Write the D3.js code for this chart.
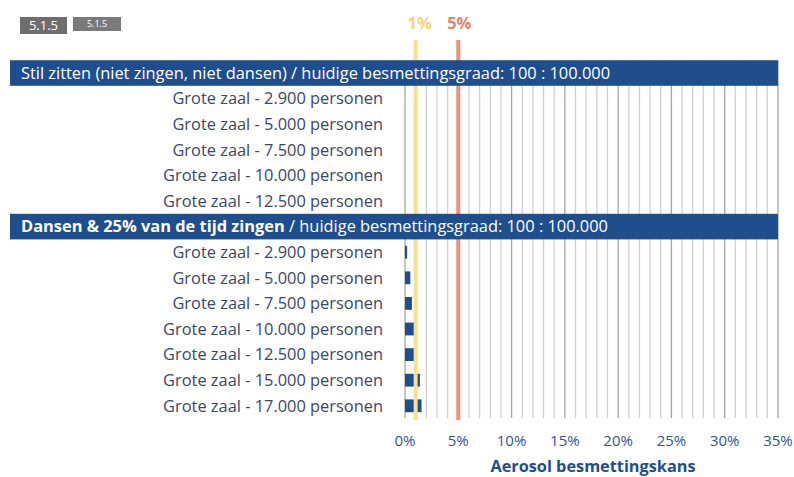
<!DOCTYPE html>
<html>
<head>
<meta charset="utf-8">
<script src="https://cdn.jsdelivr.net/npm/d3@7"></script>
<style>
  html, body { margin: 0; padding: 0; background: #fff; }
  svg { display: block; }
  text { font-family: "Open Sans", "Noto Sans", sans-serif; }
</style>
</head>
<body>
<svg id="chart" width="794" height="477"></svg>
<script>
// ---- data ----
const header1Bold = "";
const header1Text = "Stil zitten (niet zingen, niet dansen) / huidige besmettingsgraad: 100 : 100.000";
const header2Bold = "Dansen & 25% van de tijd zingen";
const header2Text = " / huidige besmettingsgraad: 100 : 100.000";
const stilLabels = ["Grote zaal - 2.900 personen", "Grote zaal - 5.000 personen", "Grote zaal - 7.500 personen",
                    "Grote zaal - 10.000 personen", "Grote zaal - 12.500 personen"];
const stilValues = [0, 0, 0, 0, 0];
const dansLabels = ["Grote zaal - 2.900 personen", "Grote zaal - 5.000 personen", "Grote zaal - 7.500 personen",
                    "Grote zaal - 10.000 personen", "Grote zaal - 12.500 personen", "Grote zaal - 15.000 personen",
                    "Grote zaal - 17.000 personen"];
const dansValues = [0.2, 0.5, 0.65, 0.85, 0.85, 1.4, 1.55];
const xTicks = [0, 5, 10, 15, 20, 25, 30, 35];
const gridValues = d3.range(0, 36, 1);
const thresholds = [1, 5];
const thresholdLabels = ["1%", "5%"];
const axisTitle = "Aerosol besmettingskans";
const badges = ["5.1.5", "5.1.5"];

// ---- rows ----
const rows = [];
rows.push({key: "h1", type: "header", bold: header1Bold, text: header1Text});
stilLabels.forEach((l, i) => rows.push({key: "s" + i, type: "row", label: l, value: stilValues[i]}));
rows.push({key: "h2", type: "header", bold: header2Bold, text: header2Text});
dansLabels.forEach((l, i) => rows.push({key: "d" + i, type: "row", label: l, value: dansValues[i]}));

const svg = d3.select("#chart");
const x = d3.scaleLinear().domain([0, 35]).range([405, 778]);
const y = d3.scaleBand().domain(rows.map(r => r.key)).range([60.2, 418.6]).padding(0);
const barPad = 0.25;

// gridlines
svg.append("g").selectAll("line").data(gridValues).join("line")
  .attr("x1", d => x(d)).attr("x2", d => x(d))
  .attr("y1", y.range()[0]).attr("y2", 418)
  .attr("stroke", d => d % 5 === 0 ? "#a6a6a6" : "#d0d0d0")
  .attr("stroke-width", 1.3);

// bars
const dataRows = rows.filter(r => r.type === "row");
svg.append("g").selectAll("rect").data(dataRows).join("rect")
  .attr("x", x(0))
  .attr("y", d => y(d.key) + y.bandwidth() * barPad)
  .attr("width", d => x(d.value) - x(0))
  .attr("height", y.bandwidth() * (1 - 2 * barPad))
  .attr("fill", "#1f4e8c");

// row labels
svg.append("g").selectAll("text").data(dataRows).join("text")
  .attr("x", 383)
  .attr("y", d => y(d.key) + y.bandwidth() / 2)
  .attr("dy", "0.35em")
  .attr("text-anchor", "end")
  .attr("font-size", 16.4)
  .attr("fill", "#3b4766")
  .text(d => d.label);

// threshold lines
const thrColors = ["#fadf8f", "#e9917a"];
const thrText = ["#f7d37c", "#e0846c"];
svg.append("g").selectAll("line").data(thresholds).join("line")
  .attr("x1", d => x(d)).attr("x2", d => x(d))
  .attr("y1", 40).attr("y2", 420)
  .attr("stroke", (d, i) => thrColors[i])
  .attr("stroke-width", 4);
svg.append("g").selectAll("text").data(thresholds).join("text")
  .attr("x", (d, i) => x(d) + (i === 0 ? 4 : 1))
  .attr("y", 29)
  .attr("text-anchor", "middle")
  .attr("font-size", 16.5)
  .attr("font-weight", "bold")
  .attr("fill", (d, i) => thrText[i])
  .text((d, i) => thresholdLabels[i]);

// headers
const headers = rows.filter(r => r.type === "header");
const hg = svg.append("g").selectAll("g").data(headers).join("g");
hg.append("rect")
  .attr("x", 10).attr("width", 768)
  .attr("y", d => y(d.key)).attr("height", y.bandwidth())
  .attr("fill", "#1f4e8c");
const ht = hg.append("text")
  .attr("x", 21)
  .attr("y", d => y(d.key) + y.bandwidth() / 2)
  .attr("dy", "0.35em")
  .attr("font-size", 16.4)
  .attr("fill", "#ffffff");
ht.append("tspan").attr("font-weight", "bold").text(d => d.bold);
ht.append("tspan").text(d => d.text);

// x axis tick labels
svg.append("g").selectAll("text").data(xTicks).join("text")
  .attr("x", d => x(d))
  .attr("y", 441)
  .attr("dy", "0.35em")
  .attr("text-anchor", "middle")
  .attr("font-size", 15)
  .attr("fill", "#2f5597")
  .text(d => d + "%");

svg.append("text")
  .attr("x", 593).attr("y", 466)
  .attr("dy", "0.35em")
  .attr("text-anchor", "middle")
  .attr("font-size", 16.3)
  .attr("font-weight", "bold")
  .attr("fill", "#1f4e8c")
  .text(axisTitle);

// badges
const bg = svg.append("g");
bg.append("rect").attr("x", 20).attr("y", 17).attr("width", 47).attr("height", 17).attr("fill", "#6e6e6e");
bg.append("text").attr("x", 43.5).attr("y", 25.5).attr("dy", "0.35em").attr("text-anchor", "middle")
  .attr("font-size", 13).attr("fill", "#fff").attr("font-family", "Liberation Sans, Arial, sans-serif").text(badges[0]);
bg.append("rect").attr("x", 73).attr("y", 17).attr("width", 48).attr("height", 14).attr("fill", "#7a7a7a");
bg.append("text").attr("x", 97).attr("y", 23.5).attr("dy", "0.35em").attr("text-anchor", "middle")
  .attr("font-size", 9).attr("fill", "#fff").attr("font-family", "Liberation Sans, Arial, sans-serif").text(badges[1]);
</script>
</body>
</html>
